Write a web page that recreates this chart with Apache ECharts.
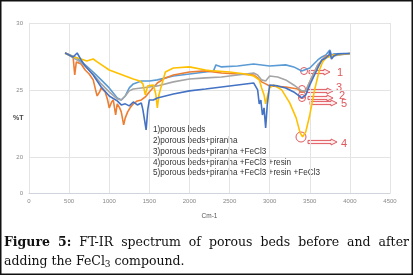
<!DOCTYPE html>
<html>
<head>
<meta charset="utf-8">
<script src="https://cdn.jsdelivr.net/npm/echarts@6/dist/echarts.min.js"></script>
<style>
  html, body { margin: 0; padding: 0; background: #fff; }
  #chart { width: 413px; height: 276px; }
</style>
</head>
<body>
<div id="chart"></div>
<script>
// spectra: wavenumber (cm-1) and %T
var names = [
  '1)porous beds',
  '2)porous beds+piranha',
  '3)porous beds+piranha +FeCl3',
  '4)porous beds+piranha +FeCl3 +resin',
  '5)porous beds+piranha +FeCl3 +resin +FeCl3'
]
var colors = ['#5B9BD5', '#ED7D31', '#A5A5A5', '#FFC000', '#4472C4']

var wn1 = [450, 600, 650, 700, 800, 900, 1000, 1100, 1150, 1200, 1250, 1300, 1400, 1500, 1600, 1800, 2000, 2200, 2300, 2330, 2400, 2600, 2800, 3000, 3200, 3300, 3400, 3500, 3600, 3650, 3700, 3750, 3770, 3800, 4000]
var t1 = [27.76, 27.39, 27.09, 26.87, 26.34, 25.75, 25.15, 24.40, 24.25, 24.55, 25.15, 25.45, 25.67, 25.67, 25.75, 26.04, 26.19, 26.34, 26.42, 26.87, 26.72, 26.79, 26.94, 26.79, 26.87, 26.72, 26.42, 26.64, 27.24, 27.46, 27.61, 27.99, 27.61, 27.69, 27.72]

var wn2 = [450, 550, 570, 590, 650, 700, 750, 800, 830, 850, 880, 900, 950, 980, 1000, 1030, 1050, 1080, 1100, 1130, 1150, 1180, 1200, 1230, 1260, 1300, 1350, 1400, 1450, 1500, 1600, 1700, 1800, 2000, 2200, 2400, 2600, 2800, 2850, 2900, 2950, 3000, 3200, 3350, 3400, 3450, 3500, 3600, 3700, 3800, 4000]
var t2 = [27.76, 27.46, 26.12, 27.09, 26.94, 26.49, 26.19, 25.75, 25.00, 24.55, 24.85, 25.15, 24.85, 24.25, 23.66, 24.10, 24.25, 23.13, 23.96, 23.66, 23.36, 22.39, 22.91, 23.36, 23.66, 23.96, 24.18, 24.25, 24.48, 24.85, 25.52, 25.90, 26.12, 26.34, 26.42, 26.27, 26.19, 26.12, 25.90, 25.60, 25.45, 25.30, 25.22, 25.07, 24.85, 24.93, 25.60, 26.87, 27.54, 27.61, 27.72]

var wn3 = [450, 600, 700, 800, 900, 1000, 1100, 1150, 1200, 1250, 1300, 1400, 1500, 1600, 1800, 2000, 2200, 2400, 2600, 2800, 2850, 2900, 2950, 3000, 3100, 3200, 3300, 3400, 3450, 3500, 3600, 3700, 4000]
var t3 = [27.76, 27.24, 26.79, 26.19, 25.45, 24.85, 24.33, 24.25, 24.55, 24.93, 25.07, 25.15, 25.22, 25.30, 25.60, 25.82, 25.90, 25.97, 26.12, 26.27, 26.12, 25.75, 25.67, 26.04, 25.97, 25.75, 25.37, 24.93, 24.93, 25.60, 26.87, 27.46, 27.72]

var wn4 = [450, 560, 650, 720, 800, 850, 1000, 1100, 1200, 1300, 1380, 1420, 1450, 1480, 1550, 1580, 1600, 1620, 1650, 1700, 1800, 2000, 2200, 2300, 2500, 2700, 2800, 2870, 2900, 2930, 2950, 2970, 3000, 3050, 3150, 3250, 3330, 3380, 3410, 3450, 3500, 3560, 3620, 3660, 3700, 3800, 4000]
var t4 = [27.74, 27.46, 27.31, 27.16, 27.31, 27.09, 26.49, 26.27, 26.04, 25.82, 25.67, 25.45, 24.63, 25.30, 25.37, 24.70, 23.66, 24.63, 25.30, 26.34, 26.64, 26.72, 26.49, 26.42, 26.34, 26.19, 26.04, 25.75, 25.15, 24.63, 23.96, 24.48, 25.15, 25.37, 25.00, 24.03, 22.91, 21.79, 21.49, 21.87, 23.13, 25.00, 26.49, 27.09, 27.39, 27.61, 27.72]

var wn5 = [450, 550, 600, 650, 700, 800, 900, 1000, 1100, 1150, 1200, 1250, 1300, 1350, 1400, 1420, 1440, 1460, 1480, 1500, 1550, 1600, 1700, 1800, 2000, 2200, 2400, 2600, 2800, 2850, 2870, 2890, 2910, 2930, 2950, 2970, 3000, 3100, 3200, 3300, 3400, 3450, 3500, 3600, 3650, 3700, 3740, 3750, 3770, 3800, 3850, 4000]
var t5 = [27.76, 27.46, 27.76, 27.24, 26.79, 26.12, 25.22, 24.55, 24.18, 23.88, 23.96, 23.81, 24.10, 23.88, 24.03, 23.51, 22.76, 22.01, 23.51, 24.25, 24.25, 24.40, 24.55, 24.70, 24.93, 25.07, 25.22, 25.37, 25.52, 25.00, 23.96, 24.25, 23.13, 23.66, 22.16, 23.88, 25.37, 25.30, 25.15, 24.85, 24.40, 24.63, 25.37, 26.64, 27.24, 27.39, 27.61, 27.91, 27.31, 27.54, 27.69, 27.72]

// the original y axis is broken: "0" sits just under 20
var yTicks = [17.3, 20, 25, 30]
var yTickLabels = ['0', '20', '25', '30']
var xTicks = [0, 500, 1000, 1500, 2000, 2500, 3000, 3500, 4000, 4500]

var spectra = [[wn1, t1], [wn2, t2], [wn3, t3], [wn4, t4], [wn5, t5]]

var chart = echarts.init(document.getElementById('chart'))

// measure text so the caption can be justified like the journal page
var ctx = document.createElement('canvas').getContext('2d')
var textWidth = function (s, font) {
  ctx.font = font
  return ctx.measureText(s).width
}

var capSize = 12.5
var capFont = capSize + 'px "DejaVu Serif"'
var capBold = 'bold ' + capSize + 'px "DejaVu Serif"'
var subFont = '9px "DejaVu Serif"'
var line1 = [['Figure', capBold], ['5:', capBold], ['FT-IR', capFont], ['spectrum', capFont], ['of', capFont],
  ['porous', capFont], ['beds', capFont], ['before', capFont], ['and', capFont], ['after', capFont]]

// narrow sans for the in-plot legend if it is there
var legFont = '9.5px "Liberation Sans Narrow", "Liberation Sans"'
if (textWidth(names[4], legFont) > 170) legFont = '8.2px "Liberation Sans"'

var graphics = []

// frame round the whole figure
graphics.push({
  type: 'rect',
  shape: { x: 0.75, y: 0.75, width: 411.5, height: 273.5 },
  style: { fill: 'none', stroke: '#111', lineWidth: 1.5 }
})

var left = 4, right = 409
var total = 0
line1.forEach(function (w) { total += textWidth(w[0], w[1]) })
var gap = (right - left - total) / (line1.length - 1)
var cx = left
line1.forEach(function (w) {
  graphics.push({
    type: 'text', x: cx, y: 243,
    style: { text: w[0], font: w[1], fill: '#111', textVerticalAlign: 'middle' }
  })
  cx += textWidth(w[0], w[1]) + gap
})

var part1 = 'adding the FeCl'
var w1 = textWidth(part1, capFont)
graphics.push({
  type: 'text', x: left, y: 262,
  style: { text: part1, font: capFont, fill: '#111', textVerticalAlign: 'middle' }
})
graphics.push({
  type: 'text', x: left + w1, y: 265,
  style: { text: '3', font: subFont, fill: '#111', textVerticalAlign: 'middle' }
})
graphics.push({
  type: 'text', x: left + w1 + textWidth('3', subFont), y: 262,
  style: { text: ' compound.', font: capFont, fill: '#111', textVerticalAlign: 'middle' }
})

// legend written as plain text lines inside the plot
names.forEach(function (n, i) {
  graphics.push({
    type: 'text', x: 153, y: 130 + i * 10.8,
    style: { text: n, font: legFont, fill: '#333', textVerticalAlign: 'middle' }
  })
})

graphics.push({
  type: 'text', x: 13, y: 118,
  style: { text: '%T', font: 'bold 7px "Liberation Sans"', fill: '#444', textVerticalAlign: 'middle' }
})

// red markers: circles on the 3400 band and hollow arrows with numbers
var red = '#e0585d'
var circles = [[304, 71, 3.5], [302, 89, 3.5], [302, 95, 3.5], [302, 98, 3.5], [301, 137, 5]]
circles.forEach(function (c) {
  graphics.push({
    type: 'circle', shape: { cx: c[0], cy: c[1], r: c[2] },
    style: { fill: 'none', stroke: red, lineWidth: 1 }
  })
})
var arrows = [
  [309, 330, 72, '1', 337, 73],
  [307, 333, 91, '3', 336, 88],
  [308, 333, 98, '2', 339, 96],
  [310, 337, 103, '5', 341, 104],
  [308, 337, 142, '4', 341, 144]
]
arrows.forEach(function (a) {
  var x0 = a[0], x1 = a[1], y = a[2], hx = x1 - 6
  graphics.push({
    type: 'polygon',
    shape: { points: [[x0, y - 1.6], [hx, y - 1.6], [hx, y - 3], [x1, y], [hx, y + 3], [hx, y + 1.6], [x0, y + 1.6]] },
    style: { fill: 'rgba(255,220,220,0.5)', stroke: red, lineWidth: 1 }
  })
  graphics.push({
    type: 'text', x: a[4], y: a[5],
    style: { text: a[3], font: '11px "Liberation Sans"', fill: red, textVerticalAlign: 'middle' }
  })
})

chart.setOption({
  animation: false,
  backgroundColor: '#fff',
  grid: { left: 29, right: 23, top: 23, bottom: 83 },
  xAxis: {
    type: 'value',
    min: 0,
    max: 4500,
    interval: 500,
    name: 'Cm-1',
    nameLocation: 'middle',
    nameGap: 20,
    nameTextStyle: { fontSize: 6.5, color: '#555', fontFamily: 'Liberation Sans' },
    axisLine: { show: true, lineStyle: { color: '#d0d4dc' } },
    axisTick: { show: false },
    axisLabel: {
      fontSize: 6, color: '#888', margin: 5, fontFamily: 'Liberation Sans',
      customValues: xTicks,
      formatter: function (v) { return String(v) }
    },
    splitLine: { show: true, lineStyle: { color: '#e4e4e4', width: 1 } }
  },
  yAxis: {
    type: 'value',
    min: 17.3,
    max: 30,
    axisLine: { show: false },
    axisTick: { show: false, customValues: yTicks },
    axisLabel: {
      customValues: yTicks,
      fontSize: 6, color: '#888', margin: 6, fontFamily: 'Liberation Sans',
      formatter: function (v) {
        var best = 0
        yTicks.forEach(function (t, i) {
          if (Math.abs(t - v) < Math.abs(yTicks[best] - v)) best = i
        })
        return yTickLabels[best]
      }
    },
    splitLine: { show: true, lineStyle: { color: '#e4e4e4', width: 1 } }
  },
  series: spectra.map(function (s, i) {
    return {
      name: names[i],
      type: 'line',
      showSymbol: false,
      symbol: 'none',
      lineStyle: { color: colors[i], width: 1.6 },
      itemStyle: { color: colors[i] },
      data: s[0].map(function (x, k) { return [x, s[1][k]] })
    }
  }),
  graphic: graphics
})
</script>
</body>
</html>
